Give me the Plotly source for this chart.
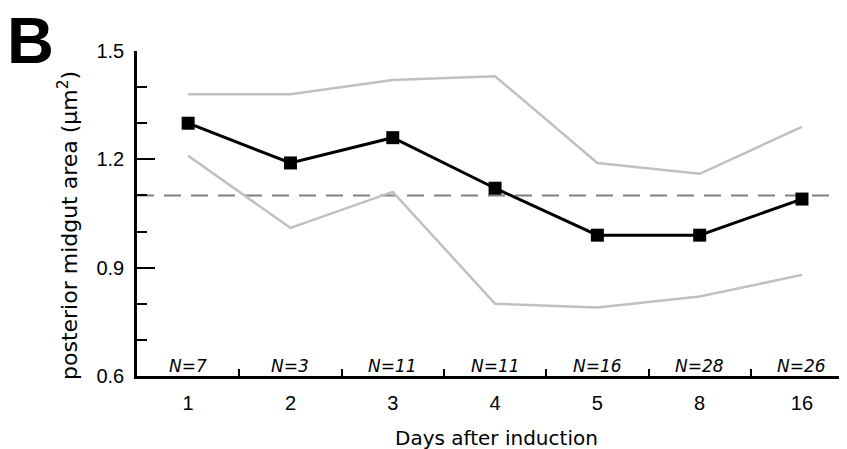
import plotly.graph_objects as go

days = ["1", "2", "3", "4", "5", "8", "16"]
mean_area = [1.30, 1.19, 1.26, 1.12, 0.99, 0.99, 1.09]
upper_area = [1.38, 1.38, 1.42, 1.43, 1.19, 1.16, 1.29]
lower_area = [1.21, 1.01, 1.11, 0.80, 0.79, 0.82, 0.88]
n_counts = [7, 3, 11, 11, 16, 28, 26]
reference_level = 1.10

# page has an 8px body margin, so the figure is made 8px smaller
OFF = 8
W, H = 847 - OFF, 449 - OFF
L, R, T = 137 - OFF, 0, 51 - OFF
PH = 325
B = H - T - PH
PW = W - L - R


def px_x(x):
    return (x - OFF - L) / PW


def px_y(y):
    return (T + PH - (y - OFF)) / PH


fig = go.Figure()
for ys in (upper_area, lower_area):
    fig.add_trace(go.Scatter(x=days, y=ys, mode="lines",
                             line=dict(color="#c0c0c0", width=2.5),
                             hoverinfo="skip", showlegend=False))
fig.add_trace(go.Scatter(x=days, y=mean_area, mode="lines+markers",
                         line=dict(color="black", width=3),
                         marker=dict(symbol="square", size=13, color="black"),
                         showlegend=False, cliponaxis=False))

fig.add_shape(type="line", xref="paper", x0=0, x1=1, yref="y",
              y0=reference_level, y1=reference_level,
              line=dict(color="#808080", width=2, dash="17px,10px"), layer="below")

for i, n in enumerate(n_counts):
    fig.add_annotation(x=i, y=0.6, xref="x", yref="y", yanchor="bottom",
                       text=f"<i>N={n}</i>", showarrow=False, yshift=-2,
                       font=dict(family="DejaVu Sans", size=17, color="black"))

fig.add_annotation(xref="paper", yref="paper", x=px_x(68), y=px_y(226),
                   textangle=-90, text="posterior midgut area (µm<sup>2</sup>)",
                   showarrow=False, xanchor="center", yanchor="middle",
                   font=dict(family="DejaVu Sans", size=22, color="black"))
fig.add_annotation(xref="paper", yref="paper", x=px_x(496), y=px_y(438),
                   yanchor="middle", text="Days after induction", showarrow=False,
                   font=dict(family="DejaVu Sans", size=20, color="black"))
fig.add_annotation(xref="paper", yref="paper", x=px_x(6), y=px_y(40),
                   xanchor="left", yanchor="middle", text="<b>B</b>", showarrow=False,
                   height=56, valign="middle", borderpad=0,
                   font=dict(family="Liberation Sans, Arial", size=65, color="black"))

fig.update_layout(
    width=W, height=H, margin=dict(l=L, r=R, t=T, b=B),
    paper_bgcolor="white", plot_bgcolor="white",
    font=dict(family="Liberation Sans, Arial", size=20, color="black"),
    xaxis=dict(type="category", range=[-0.5, 6.44], showgrid=False, zeroline=False,
               showline=True, linecolor="black", linewidth=2.5,
               ticks="inside", tickson="boundaries", ticklen=7, tickwidth=2,
               tickcolor="black", ticklabelstandoff=7),
    yaxis=dict(range=[0.6, 1.5], tick0=0.6, dtick=0.3, showgrid=False, zeroline=False,
               showline=True, linecolor="black", linewidth=2.5,
               ticks="inside", ticklen=18, tickwidth=2, tickcolor="black",
               tickformat=".1f", ticklabelstandoff=6,
               minor=dict(dtick=0.1, tick0=0.6, ticks="inside", ticklen=10,
                          tickwidth=2, tickcolor="black", showgrid=False)),
)

fig.write_html("out.html")
